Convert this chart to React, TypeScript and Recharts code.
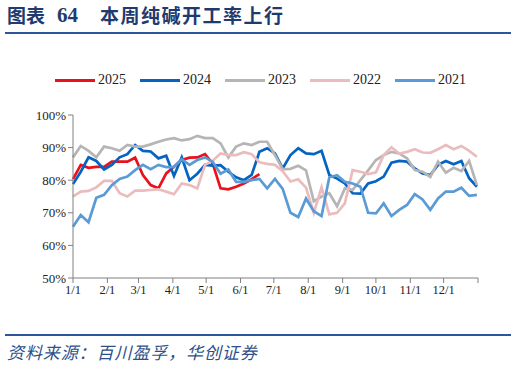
import React from 'react';
import { LineChart, Line, XAxis, YAxis, Legend } from 'recharts';

const monthDays = [0, 31, 59, 90, 120, 151, 181, 212, 243, 273, 304, 334, 365];
const monthLabels = ['1/1', '2/1', '3/1', '4/1', '5/1', '6/1', '7/1', '8/1', '9/1', '10/1', '11/1', '12/1', ''];
const yTicks = [50, 60, 70, 80, 90, 100];

const s2025 = [80.3, 84.7, 83.8, 84.1, 84.1, 85.7, 85.7, 85.7, 86.9, 81.6, 78.5, 77.5, 82.1, 84.1, 86.2, 86.9, 87, 88, 85, 77.5, 77.2, 78, 79, 80.3, 81.9];
const s2024 = [78.8, 82.6, 87, 85.9, 83.3, 84.7, 87, 88, 90.8, 89, 88.8, 86.7, 87.5, 81.3, 87, 80, 82, 84.7, 84.5, 84.6, 82.6, 80.9, 80, 81.6, 88.7, 89.8, 88.2, 83.6, 87.7, 89.8, 88.2, 88, 89, 81.6, 80.5, 79, 76, 75.9, 79, 79.7, 81.1, 85.4, 85.9, 85.7, 83.6, 82.1, 81.6, 84.7, 85.9, 84.9, 85.9, 80.6, 78];
const s2023 = [87, 90.5, 89, 87, 90.3, 89.8, 89, 90.8, 90.3, 90.3, 91, 91.8, 92.5, 92.9, 92.2, 92.6, 93.6, 92.9, 92.9, 91.3, 87, 90.3, 91.3, 90.8, 91.8, 91.8, 87.7, 83.4, 83.5, 84.4, 83, 73.5, 75, 76, 72, 77.5, 77, 80, 83, 86.2, 87.7, 88.7, 88.2, 86.7, 83.1, 82.6, 81, 85.7, 82.3, 83.8, 82.8, 85.9, 78.5];
const s2022 = [75, 76.5, 76.7, 77.8, 79.8, 79.8, 76, 75, 76.8, 76.8, 77, 77.2, 76.5, 75.7, 79, 78.5, 77.5, 84.7, 86, 88.2, 87.7, 87.7, 88.6, 88, 85.5, 85, 84.7, 82.8, 79.6, 80.3, 77.7, 70, 77.8, 69.5, 70, 72.9, 83.1, 82.6, 81.9, 82.4, 87.7, 90.1, 88.2, 88.7, 89.5, 88.5, 88.4, 89.5, 90.8, 89.5, 90.5, 89, 87.2];
const s2021 = [65.7, 69.3, 67.1, 74.6, 75.5, 78.5, 80.4, 81.1, 83.1, 84.7, 83.4, 84.7, 84, 84.1, 86.4, 84.7, 86.2, 87, 85.6, 82, 83.3, 79.5, 79.5, 80, 80.4, 77.5, 80.4, 77.3, 70, 68.7, 74.4, 70.5, 69, 80.9, 81.5, 79.5, 79, 78, 70, 69.8, 72.9, 69, 70.9, 72.4, 75.7, 74.1, 70.9, 74.4, 76.5, 76.5, 77.7, 75.2, 75.5];

const seriesList = [
  { key: 'y2025', name: '2025', color: '#E8111C', values: s2025 },
  { key: 'y2024', name: '2024', color: '#0563C1', values: s2024 },
  { key: 'y2023', name: '2023', color: '#B5B5B5', values: s2023 },
  { key: 'y2022', name: '2022', color: '#EBBCBD', values: s2022 },
  { key: 'y2021', name: '2021', color: '#5B9BD5', values: s2021 },
];

const data = s2024.map((_, i) => {
  const row: any = { day: i * 7 };
  seriesList.forEach((s) => {
    row[s.key] = i < s.values.length ? s.values[i] : null;
  });
  return row;
});

const serif = '"Liberation Serif", "Times New Roman", serif';
const cjk = '"Noto Sans CJK SC", sans-serif';

const LegendContent = () => (
  <div style={{ display: 'flex', alignItems: 'center', paddingLeft: 55 }}>
    {seriesList.map((s) => (
      <div key={s.key} style={{ display: 'flex', alignItems: 'center', marginRight: 14 }}>
        <div style={{ width: 40, height: 3, background: s.color, marginRight: 3 }} />
        <span style={{ fontFamily: serif, fontSize: 14, color: '#222', lineHeight: '16px' }}>{s.name}</span>
      </div>
    ))}
  </div>
);

export default function App() {
  return (
    <div style={{ position: 'absolute', left: 0, top: 0, width: 516, height: 370, background: '#fff', overflow: 'hidden' }}>
      <div style={{ position: 'absolute', left: 7, top: 3, fontFamily: cjk, fontWeight: 700, fontSize: 19, color: '#1F3A6E', whiteSpace: 'pre', lineHeight: '24px' }}>
        图表
      </div>
      <div style={{ position: 'absolute', left: 57, top: 3, fontFamily: serif, fontWeight: 700, fontSize: 21, color: '#1F3A6E', whiteSpace: 'pre', lineHeight: '24px' }}>
        64
      </div>
      <div style={{ position: 'absolute', left: 100, top: 3, fontFamily: cjk, fontWeight: 700, fontSize: 19, color: '#1F3A6E', whiteSpace: 'pre', lineHeight: '24px', letterSpacing: 1.5 }}>
        本周纯碱开工率上行
      </div>
      <div style={{ position: 'absolute', left: 5, top: 32, width: 506, height: 2, background: '#2E5597' }} />
      <div style={{ position: 'absolute', left: 0, top: 0 }}>
        <LineChart width={516} height={370} data={data} margin={{ top: 115, right: 38, left: 13, bottom: 62 }}>
          <XAxis
            dataKey="day"
            type="number"
            domain={[0, 365]}
            ticks={monthDays}
            tickFormatter={(v: number) => monthLabels[monthDays.indexOf(v)] ?? ''}
            interval={0}
            stroke="#808080"
            tickSize={5}
            tick={{ fontFamily: serif, fontSize: 12.5, fill: '#222' }}
            height={30}
          />
          <YAxis
            type="number"
            domain={[50, 100]}
            ticks={yTicks}
            tickFormatter={(v: number) => `${v}%`}
            stroke="#808080"
            tickSize={5}
            width={60}
            tick={{ fontFamily: serif, fontSize: 13, fill: '#222' }}
          />
          <Legend
            layout="horizontal"
            verticalAlign="middle"
            align="center"
            content={<LegendContent />}
            wrapperStyle={{ top: 72, left: 0, width: 516 }}
          />
          {seriesList.map((s) => (
            <Line
              key={s.key}
              dataKey={s.key}
              name={s.name}
              stroke={s.color}
              strokeWidth={2.7}
              dot={false}
              isAnimationActive={false}
              connectNulls={false}
            />
          ))}
        </LineChart>
      </div>
      <div style={{ position: 'absolute', left: 5, top: 334, width: 506, height: 2, background: '#2E5597' }} />
      <div style={{ position: 'absolute', left: 7, top: 342, fontFamily: cjk, fontStyle: 'italic', fontSize: 17, letterSpacing: 0.9, color: '#2E4F8A', whiteSpace: 'pre', lineHeight: '20px' }}>
        资料来源：百川盈孚，华创证券
      </div>
    </div>
  );
}
